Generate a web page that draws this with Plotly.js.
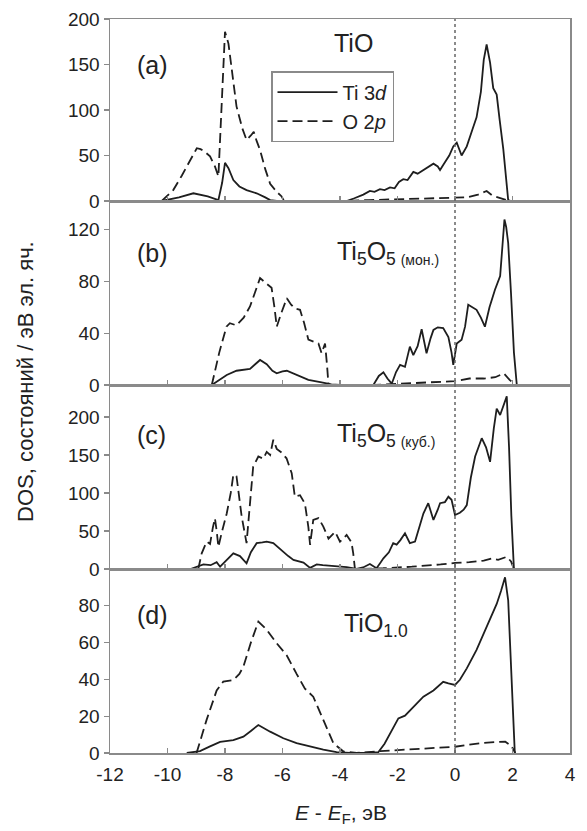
<!DOCTYPE html>
<html>
<head>
<meta charset="utf-8">
<script src="https://cdn.plot.ly/plotly-3.0.1.min.js"></script>
<style>html,body{margin:0;padding:0;background:#fff;}#chart{width:587px;height:831px;}</style>
</head>
<body>
<div id="chart"></div>
<script>
// ---------- Data (energy E - E_F in eV, DOS in states / eV cell) ----------
// Panel (a) TiO
const eA_ti = [-10.2,-9.6,-9.1,-8.6,-8.23,-8.1,-8.0,-7.88,-7.71,-7.5,-7.25,-6.9,-6.6,-6.43,-6.2,-4.5,-3.77,-3.5,-3.19,-2.96,-2.8,-2.61,-2.45,-2.26,-2.1,-1.95,-1.8,-1.65,-1.45,-1.3,-1.1,-0.9,-0.75,-0.6,-0.52,-0.4,-0.2,-0.06,0.06,0.23,0.41,0.6,0.75,0.9,1.0,1.1,1.22,1.33,1.45,1.55,1.68,1.85,1.95];
const dA_ti = [0,4,8.5,5,1,20,42,36,23,16,12,8.5,4,1,0,0,0,3,7,11,10,13,12,15,14,21,24,23,32,30,34,38,41,38,34,40,50,60,64,50,60,78,92,120,155,172,152,124,117,90,57,1,0];
const eA_o = [-10.2,-9.8,-9.5,-9.2,-8.98,-8.85,-8.7,-8.52,-8.35,-8.23,-8.12,-8.0,-7.88,-7.75,-7.6,-7.4,-7.25,-7.1,-7.0,-6.9,-6.78,-6.6,-6.43,-6.2,-6.03,-5.95,-3.8,-3.0,-2.0,-1.0,-0.5,0,0.4,0.8,1.1,1.3,1.6,1.9];
const dA_o = [0,12,28,45,58,57,54,49,38,27,100,186,173,140,104,80,67,72,76,66,56,35,19,10,5,0,0,1,2,3,3,4,4,7,11,6,3,0];

// Panel (b) Ti5O5 (мон.)
const eB_ti = [-8.46,-8.2,-7.94,-7.6,-7.3,-7.13,-6.95,-6.78,-6.55,-6.35,-6.2,-6.0,-5.85,-5.5,-5.1,-4.64,-4.3,-4.0,-3.0,-2.84,-2.65,-2.49,-2.35,-2.2,-2.05,-1.91,-1.74,-1.57,-1.45,-1.3,-1.16,-0.99,-0.85,-0.75,-0.6,-0.41,-0.23,-0.12,-0.06,0.06,0.23,0.35,0.46,0.6,0.75,0.9,1.04,1.2,1.39,1.57,1.65,1.72,1.78,1.85,1.95,2.05,2.15];
const dB_ti = [0,4,7.7,11,12,12.4,16,19.3,16,11,9,10.5,11,8,4,2,0.5,0,0,0,7,9.8,5,1,10,15.5,14,29.6,23,30,43,24.5,36,42.5,44.5,44,37,25,15.5,32,35,45,62,60,58,52,45,60,73.5,84,105,127.7,122,109.6,70,25,0];
const eB_o = [-8.46,-8.2,-7.95,-7.83,-7.6,-7.35,-7.13,-6.95,-6.78,-6.6,-6.38,-6.28,-6.2,-6.05,-5.85,-5.7,-5.57,-5.39,-5.25,-5.1,-4.9,-4.75,-4.64,-4.52,-4.45,-4.4,-2.8,-2.0,-1.0,-0.5,0,0.5,1.0,1.4,1.7,1.9,2.1];
const dB_o = [0,25,45,47.7,46,52,60.6,72,82.5,79,75,60,45,55,67,62,59,58,48,35,33,32,24.5,32,15,0,0,1,2,2.5,3,5,5,6,9,4,0];

// Panel (c) Ti5O5 (куб.)
const eC_ti = [-9.2,-9.0,-8.75,-8.5,-8.29,-8.17,-7.95,-7.71,-7.48,-7.25,-7.1,-6.9,-6.7,-6.55,-6.32,-6.15,-5.97,-5.8,-5.62,-5.27,-5.04,-4.81,-4.6,-4.35,-4.0,-3.77,-3.42,-3.2,-2.96,-2.73,-2.6,-2.49,-2.3,-2.15,-2.03,-1.9,-1.74,-1.57,-1.39,-1.25,-1.1,-0.93,-0.75,-0.6,-0.52,-0.35,-0.23,-0.12,0,0.17,0.3,0.41,0.55,0.7,0.8,0.93,1.08,1.22,1.35,1.45,1.57,1.7,1.8,1.88,1.96,2.05];
const dC_ti = [0,3,6,5,9,3,12,20.6,17,7.5,22,34,35,36,34,28,23,17,12,8.5,1.5,6,5,4.5,3,2.6,0,2,6.5,1,8,14,22,34,32,38,47,34,36,55,73,86.5,64.5,78,86.5,88,95,91,71,74,78,84,120,148,158,172,160,141,185,211,202.6,215,227,160,70,0];
const eC_o = [-8.93,-8.81,-8.64,-8.52,-8.42,-8.35,-8.29,-8.23,-8.12,-7.94,-7.8,-7.71,-7.6,-7.5,-7.42,-7.25,-7.15,-7.02,-6.84,-6.67,-6.55,-6.43,-6.32,-6.2,-6.03,-5.86,-5.68,-5.57,-5.39,-5.22,-5.1,-5.04,-4.93,-4.75,-4.58,-4.4,-4.17,-4.0,-3.77,-3.6,-3.54,-3.48,-2.5,-1.5,-0.5,0,0.5,1.0,1.3,1.5,1.8,1.95,2.05];
const dC_o = [0,20.6,36,33,55,66.7,50,29,47,73,100,124,122,95,69,34,80,134.6,148,145,154,150,170,158,153,145.6,126,95,97,86,55,31.6,64.5,67,55.7,40,49,36,44.7,35,20.6,0,1,3,6,8,9,11,14,12,16,10,0];

// Panel (d) TiO1.0
const eD_ti = [-9.33,-8.87,-8.52,-8.17,-7.71,-7.36,-7.1,-6.84,-6.43,-5.97,-5.51,-5.04,-4.58,-4.12,-3.65,-3.19,-2.67,-2.45,-2.26,-2.1,-1.97,-1.74,-1.45,-1.1,-0.75,-0.41,-0.23,0,0.17,0.41,0.75,1.1,1.45,1.6,1.74,1.85,2.08];
const dD_ti = [0,1,3.6,6,7,8.9,12,15.2,11.6,8,5.4,3.6,1.8,0.5,0,0,0.4,5,10.7,15,18.8,20.3,25,30.6,34,38.7,37.8,37,39.8,46,56,68.6,81,88,95.5,83,0];
const eD_o = [-8.99,-8.64,-8.29,-8.06,-7.71,-7.5,-7.36,-7.1,-6.84,-6.55,-6.2,-5.85,-5.51,-5.22,-4.93,-4.58,-4.23,-3.88,-3.42,-2.6,-1.5,-0.5,0,0.5,1.0,1.5,1.75,1.95,2.1];
const dD_o = [0,18,34,38.8,39.7,43,47,60,71.4,67,59.6,53,43,35,30.6,18,5.3,0.8,0,1,2,3,3.4,4.5,5.5,6,6.1,4,0];

// Axis ticks / ranges
const xTicks = [-12,-10,-8,-6,-4,-2,0,2,4];
const xTickText = ['-12','-10','-8','-6','-4','-2','0','2','4'];
const yTicksA = [0,50,100,150,200];
const yTicksB = [0,40,80,120];
const yTicksC = [0,50,100,150,200];
const yTicksD = [0,20,40,60,80];
const yMax = [200,142,242,100];

const panelLabels = ['(a)','(b)','(c)','(d)'];
const compounds = ['TiO',
  'Ti<sub>5</sub>O<sub>5 <span style="font-size:14px">(мон.)</span></sub>',
  'Ti<sub>5</sub>O<sub>5 <span style="font-size:14px">(куб.)</span></sub>',
  'TiO<sub>1.0</sub>'];
const seriesNames = ['Ti 3<i>d</i>','O 2<i>p</i>'];

// ---------- Build ----------
const LINE = '#1e1e1e';
const AX = '#8a8a8a';
const FONT = 'Liberation Sans, Arial, sans-serif';

const panels = [
  {eT:eA_ti,dT:dA_ti,eO:eA_o,dO:dA_o},
  {eT:eB_ti,dT:dB_ti,eO:eB_o,dO:dB_o},
  {eT:eC_ti,dT:dC_ti,eO:eC_o,dO:dC_o},
  {eT:eD_ti,dT:dD_ti,eO:eD_o,dO:dD_o}
];
const yTicks = [yTicksA,yTicksB,yTicksC,yTicksD];
const bnd = [19,201,385,569,753];
const toPaperY = py => (753-py)/734;

const traces = [];
panels.forEach((p,i) => {
  const sfx = i===0 ? '' : String(i+1);
  traces.push({x:p.eT, y:p.dT, type:'scatter', mode:'lines', xaxis:'x'+sfx, yaxis:'y'+sfx,
    name:seriesNames[0], showlegend:i===0, line:{color:LINE,width:1.8}});
  traces.push({x:p.eO, y:p.dO, type:'scatter', mode:'lines', xaxis:'x'+sfx, yaxis:'y'+sfx,
    name:seriesNames[1], showlegend:i===0, line:{color:LINE,width:1.8,dash:'10px,5px'}});
});

const layout = {
  width:587, height:831,
  margin:{l:110,r:17,t:19,b:78},
  paper_bgcolor:'#fff', plot_bgcolor:'#fff',
  font:{family:FONT, color:'#222', size:19},
  showlegend:true,
  legend:{x:0.35, y:0.929, xanchor:'left', yanchor:'top', bgcolor:'#fff',
    bordercolor:AX, borderwidth:1.5, font:{size:20, family:FONT, color:'#222'},
    itemwidth:60, tracegroupgap:0},
  annotations:[], shapes:[]
};

for (let i=0;i<4;i++){
  const sfx = i===0 ? '' : String(i+1);
  const dom = [toPaperY(bnd[i+1]), toPaperY(bnd[i])];
  layout['xaxis'+sfx] = {
    range:[-12,4], tickvals:xTicks, ticktext:xTickText, ticks:'inside', ticklen:5, tickwidth:1.2, tickcolor:AX,
    showline:true, linecolor:AX, linewidth:1.5, mirror:true, showgrid:false, zeroline:false,
    showticklabels:i===3, anchor:'y'+sfx, ticklabelstandoff:4, tickfont:{size:19,family:FONT,color:'#222'}
  };
  if (i>0) layout['xaxis'+sfx].matches = 'x';
  layout['yaxis'+sfx] = {
    domain:dom, range:[0,yMax[i]], tickvals:yTicks[i], ticks:'outside', ticklen:5, tickwidth:1.2,
    tickcolor:AX, showline:true, linecolor:AX, linewidth:1.5, mirror:true, showgrid:false,
    zeroline:false, anchor:'x'+sfx, tickfont:{size:19,family:FONT,color:'#222'}
  };
}

const labelY = [65,253,435,615];
const compY = [43,253,435,625];
const compX = [353,335,335,342];
for (let i=0;i<4;i++){
  layout.annotations.push({text:panelLabels[i], xref:'paper', yref:'paper',
    x:(135-110)/460, y:toPaperY(labelY[i]), xanchor:'left', yanchor:'middle', showarrow:false,
    font:{size:25,family:FONT,color:'#222'}});
  layout.annotations.push({text:compounds[i], xref:'paper', yref:'paper',
    x:(compX[i]-110)/460, y:toPaperY(compY[i]), xanchor:i===0?'center':'left', yanchor:'middle', showarrow:false,
    font:{size:25,family:FONT,color:'#222'}});
}
layout.annotations.push({text:'DOS, состояний / эВ эл. яч.', xref:'paper', yref:'paper',
  x:(25-110)/460, y:toPaperY(382), textangle:-90, showarrow:false, xanchor:'center', yanchor:'middle',
  font:{size:22,family:FONT,color:'#222'}});
layout.annotations.push({text:'<i>E</i> - <i>E</i><sub>F</sub>, эВ', xref:'paper', yref:'paper',
  x:(341-110)/460, y:toPaperY(814), showarrow:false, xanchor:'center', yanchor:'middle',
  font:{size:21,family:FONT,color:'#222'}});

layout.shapes.push({type:'line', xref:'x', yref:'paper', x0:0, x1:0, y0:0, y1:1,
  line:{color:'#666', width:1.5, dash:'dot'}});

Plotly.newPlot('chart', traces, layout, {staticPlot:true, displayModeBar:false});
</script>
</body>
</html>
